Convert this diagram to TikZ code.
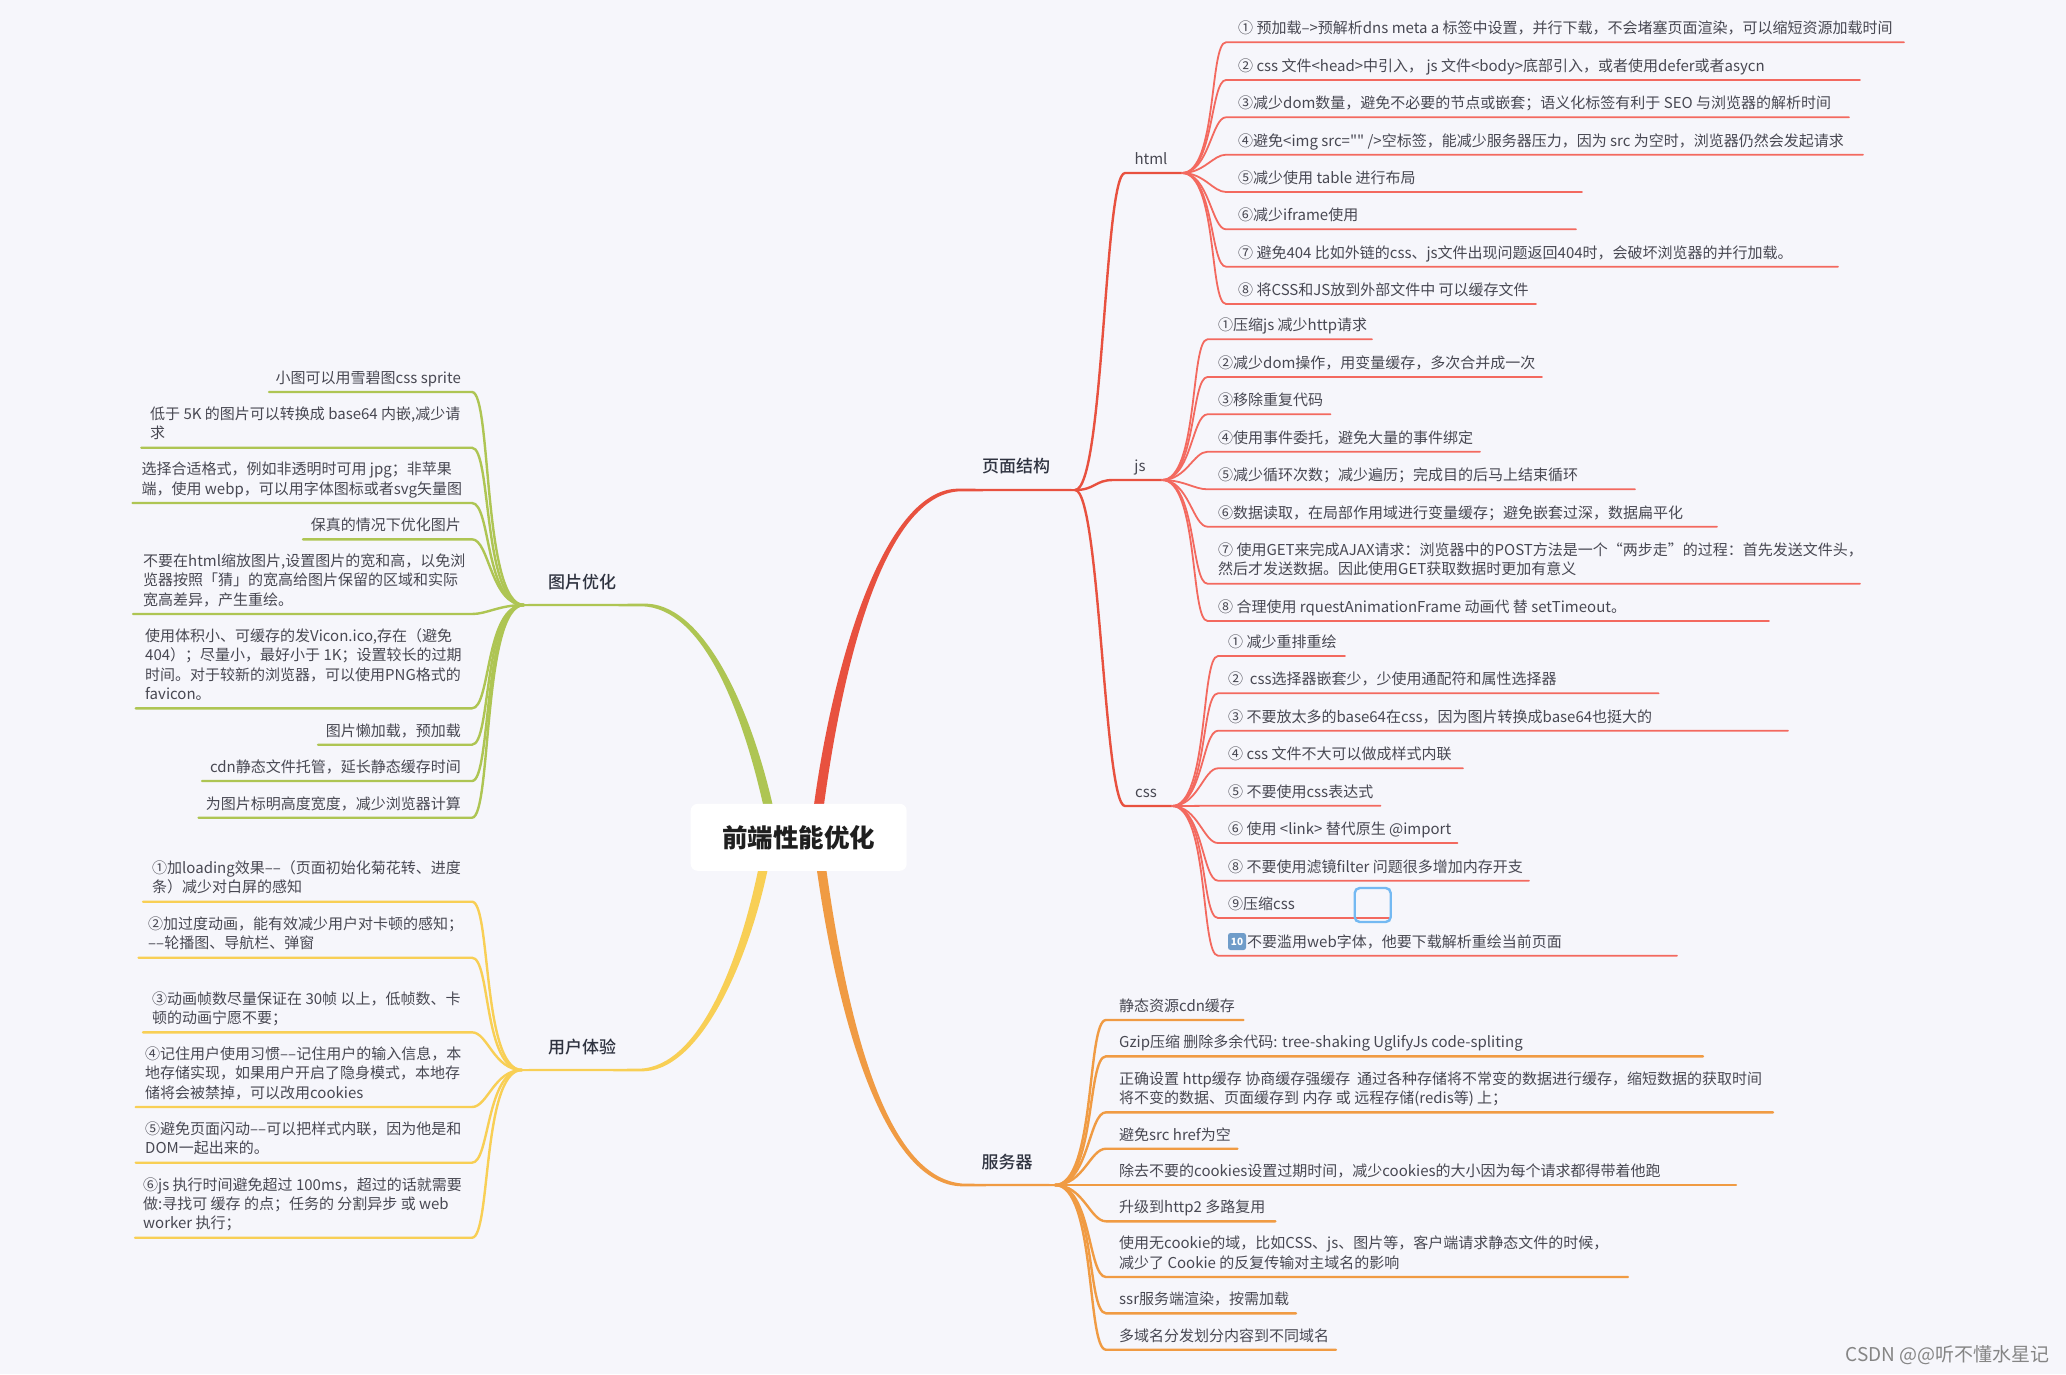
\documentclass[tikz,border=0pt]{standalone}
\usepackage{fontspec}
\setmainfont{Noto Sans CJK SC}
\newfontfamily\plainfont{Noto Sans CJK SC}
\newfontfamily\medfont{Noto Sans CJK SC Medium}
\usetikzlibrary{calc}
\definecolor{bgc}{HTML}{F6F6FB}
\definecolor{txt}{HTML}{484852}
\definecolor{head}{HTML}{2F3340}
\definecolor{redT}{HTML}{E8513F}
\definecolor{redS}{HTML}{F3695F}
\definecolor{orgT}{HTML}{F09B43}
\definecolor{grnT}{HTML}{AEC553}
\definecolor{ylwT}{HTML}{F8CF55}
\definecolor{selC}{HTML}{74B9F2}
\definecolor{keyC}{HTML}{6F9CC9}
\tikzset{
  itemtext/.style={font=\fontsize{15}{19.3}\selectfont,text=txt,inner sep=0pt,align=left,
    execute at begin node=\strut,execute at end node=\strut},
  headtext/.style={font=\fontsize{17}{20}\selectfont\medfont,text=head,inner sep=0pt},
  subhead/.style={font=\fontsize{15}{18}\selectfont,text=txt,inner sep=0pt},
  subline/.style={line cap=round},
  redsub/.style={line width=1.8pt,draw=redS},
  orgsub/.style={line width=2.4pt,draw=orgT},
  grnsub/.style={line width=2.4pt,draw=grnT},
  ylwsub/.style={line width=2.4pt,draw=ylwT},
  midline/.style={line width=2.4pt,line cap=round},
  rootbox/.style={fill=white,rounded corners=7pt,inner sep=0pt,minimum width=216pt,minimum height=67pt,
    font=\fontsize{25.5}{30}\selectfont\bfseries,text=black!88},
  selbox/.style={draw=selC,line width=2.4pt,rounded corners=5pt,inner sep=0pt,minimum width=36pt,minimum height=34pt},
  keycap/.style={fill=keyC,rounded corners=2.5pt,inner sep=0pt,minimum width=18pt,minimum height=17pt,text=white,
    font=\fontsize{10}{12}\selectfont\bfseries},
  wmark/.style={font=\fontsize{19}{22}\selectfont,text=black!48,inner sep=0pt}
}
% state: hub name, hub x, hub y, corner x, text x, line style
\newcommand\sethub[6]{\def\hubname{#1}\def\hubx{#2}\def\huby{#3}\def\startx{#4}\def\textx{#5}\def\col{#6}\coordinate (#1) at (#2,#3);}
\newcommand\drawsub[3]{% name, y, xend
  \pgfmathsetmacro\tallness{min(1,abs(#2-\huby)/120)}
  \pgfmathsetmacro\ctla{\hubx+(.45+.35*\tallness)*(\startx-\hubx)}
  \pgfmathsetmacro\ctlb{\hubx+(.72-.1*\tallness)*(\startx-\hubx)}
  \coordinate (#1 s) at (\startx,#2);
  \coordinate (#1 e) at (#3,#2);
  \draw[subline,\col] (\hubname) .. controls (\ctla,\huby) and (\ctlb,#2) .. (#1 s) -- (#1 e);}
% [lines]{name}{underline y}{x end}{text}  text starts at \textx
\newcommand\Ritem[5][1]{%
  \pgfmathsetmacro\tcy{#3-12.4-(#1-1)*9.65}
  \drawsub{#2}{#3}{#4}
  \node[itemtext,anchor=west] (#2) at (\textx,\tcy) {#5};}
% right-aligned single line on the left side
\newcommand\Litem[4]{%
  \pgfmathsetmacro\tcy{#2-12.4}
  \drawsub{#1}{#2}{#3}
  \node[itemtext,anchor=east] (#1) at (\textx,\tcy) {#4};}
% [lines]{name}{underline y}{x end}{text left}{text}
\newcommand\Lblock[6][1]{%
  \pgfmathsetmacro\tcy{#3-12.4-(#1-1)*9.65}
  \drawsub{#2}{#3}{#4}
  \node[itemtext,anchor=west] (#2) at (#5,\tcy) {#6};}
% tapered trunk: colour, P0, c1, c2, bend, hub, width, sign
\newcommand\trunk[8]{%
  \fill[#1] ($(#2)+(-#7/2,0)$) .. controls ($(#3)+(-#7*.5,0)$) and ($(#4)+(0,#8*4)$) .. ($(#5)+(0,#8*1.3)$)
    -- ($(#6)+(0,#8*1)$) -- ($(#6)+(0,-#8*1)$) -- ($(#5)+(0,-#8*1.3)$)
    .. controls ($(#4)+(0,-#8*4)$) and ($(#3)+(#7*.5,0)$) .. ($(#2)+(#7/2,0)$) -- cycle;}

\begin{document}
\begin{tikzpicture}[x=1pt,y=-1pt]
\useasboundingbox (0,0) rectangle (2066,1374);
\fill[bgc] (0,0) rectangle (2066,1374);

% anchors on the root
\coordinate (rA) at (818,812);
\coordinate (gA) at (769.5,812);
\coordinate (oA) at (820.5,862);
\coordinate (yA) at (764.5,862);
% main hubs
\coordinate (pageHub) at (1075,490);
\coordinate (serverHub) at (1055,1185);
\coordinate (imgHub) at (524,605);
\coordinate (uxHub) at (522,1070);
\coordinate (rC1) at (838,660); \coordinate (rC2) at (885,490); \coordinate (rB) at (960,490);
\coordinate (oC1) at (845,1040); \coordinate (oC2) at (890,1185); \coordinate (oB) at (965,1185);
\coordinate (gC1) at (745,700); \coordinate (gC2) at (700,605); \coordinate (gB) at (643,605);
\coordinate (yC1) at (745,960); \coordinate (yC2) at (700,1070); \coordinate (yB) at (640,1070);
\trunk{redT}{rA}{rC1}{rC2}{rB}{pageHub}{10}{-1}
\trunk{orgT}{oA}{oC1}{oC2}{oB}{serverHub}{9.5}{1}
\trunk{grnT}{gA}{gC1}{gC2}{gB}{imgHub}{9.5}{1}
\trunk{ylwT}{yA}{yC1}{yC2}{yB}{uxHub}{9.5}{-1}

% second-level red branches
\coordinate (htmlHub) at (1182,173);
\coordinate (htmlBend) at (1125,173);
\coordinate (jsHub) at (1162,480);
\coordinate (jsBend) at (1113,480);
\coordinate (cssHub) at (1172,806);
\coordinate (cssBend) at (1125,806);
\draw[midline,redT] (pageHub) .. controls (1104,490) and (1104,173) .. (htmlBend) -- (htmlHub);
\draw[midline,redT] (pageHub) .. controls (1095,490) and (1095,480) .. (jsBend) -- (jsHub);
\draw[midline,redT] (pageHub) .. controls (1100,490) and (1104,806) .. (cssBend) -- (cssHub);

% html
\sethub{htmlHub}{1182}{173}{1226}{1238}{redsub}
\Ritem{h1}{42.3}{1904}{① 预加载–>预解析dns meta a 标签中设置，并行下载，不会堵塞页面渲染，可以缩短资源加载时间}
\Ritem{h2}{80}{1860}{② css 文件<head>中引入， js 文件<body>底部引入，或者使用defer或者asycn}
\Ritem{h3}{117.3}{1849}{③减少dom数量，避免不必要的节点或嵌套；语义化标签有利于 SEO 与浏览器的解析时间}
\Ritem{h4}{154.7}{1863}{④避免<img src={\plainfont ""} />空标签，能减少服务器压力，因为 src 为空时，浏览器仍然会发起请求}
\Ritem{h5}{192}{1582}{⑤减少使用 table 进行布局}
\Ritem{h6}{229.3}{1576}{⑥减少iframe使用}
\Ritem{h7}{266.7}{1838}{⑦ 避免404 比如外链的css、js文件出现问题返回404时，会破坏浏览器的并行加载。}
\Ritem{h8}{304}{1536}{⑧ 将CSS和JS放到外部文件中 可以缓存文件}

% js
\sethub{jsHub}{1162}{480}{1207.5}{1218}{redsub}
\Ritem{j1}{339.3}{1372}{①压缩js 减少http请求}
\Ritem{j2}{377}{1542}{②减少dom操作，用变量缓存，多次合并成一次}
\Ritem{j3}{414.3}{1330.5}{③移除重复代码}
\Ritem{j4}{451.7}{1480}{④使用事件委托，避免大量的事件绑定}
\Ritem{j5}{489.3}{1635}{⑤减少循环次数；减少遍历；完成目的后马上结束循环}
\Ritem{j6}{526.7}{1717}{⑥数据读取，在局部作用域进行变量缓存；避免嵌套过深，数据扁平化}
\Ritem[2]{j7}{583.7}{1860}{⑦ 使用GET来完成AJAX请求：浏览器中的POST方法是一个“两步走”的过程：首先发送文件头，\\然后才发送数据。因此使用GET获取数据时更加有意义}
\Ritem{j8}{621}{1769}{⑧ 合理使用 rquestAnimationFrame 动画代 替 setTimeout。}

% css
\sethub{cssHub}{1172}{806}{1218}{1228}{redsub}
\Ritem{c1}{656}{1345}{① 减少重排重绘}
\Ritem{c2}{693.3}{1658.6}{②\ \ css选择器嵌套少，少使用通配符和属性选择器}
\Ritem{c3}{730.7}{1788}{③ 不要放太多的base64在css，因为图片转换成base64也挺大的}
\Ritem{c4}{768.3}{1463}{④ css 文件不大可以做成样式内联}
\Ritem{c5}{805.7}{1380.5}{⑤ 不要使用css表达式}
\Ritem{c6}{843}{1457.5}{⑥ 使用 <link> 替代原生 @import}
\Ritem{c7}{880.7}{1529}{⑧ 不要使用滤镜filter 问题很多增加内存开支}
\Ritem{c8}{918}{1388.7}{⑨压缩css}
\Lblock{c9}{955.7}{1677}{1247}{不要滥用web字体，他要下载解析重绘当前页面}
\node[keycap] (key) at (1237,941.5) {10};
\node[selbox] (sel) at (1372.7,905) {};

% server
\sethub{serverHub}{1055}{1185}{1106}{1119}{orgsub}
\Ritem{s1}{1020}{1243.5}{静态资源cdn缓存}
\Ritem{s2}{1056.3}{1703}{Gzip压缩 删除多余代码: tree-shaking UglifyJs code-spliting}
\Ritem[2]{s3}{1112.3}{1773}{正确设置 http缓存 协商缓存强缓存\ \ 通过各种存储将不常变的数据进行缓存，缩短数据的获取时间\\将不变的数据、页面缓存到 内存 或 远程存储(redis等) 上；}
\Ritem{s4}{1148.7}{1237.5}{避免src href为空}
\Ritem{s5}{1185}{1736}{除去不要的cookies设置过期时间，减少cookies的大小因为每个请求都得带着他跑}
\Ritem{s6}{1221.3}{1275.4}{升级到http2 多路复用}
\Ritem[2]{s7}{1277}{1628}{使用无cookie的域，比如CSS、js、图片等，客户端请求静态文件的时候，\\减少了 Cookie 的反复传输对主域名的影响}
\Ritem{s8}{1313.3}{1296}{ssr服务端渲染，按需加载}
\Ritem{s9}{1349.7}{1336}{多域名分发划分内容到不同域名}

% images
\sethub{imgHub}{524}{605}{472}{461}{grnsub}
\Litem{g1}{392}{269}{小图可以用雪碧图css sprite}
\Lblock[2]{g2}{447.7}{141.4}{150}{低于 5K 的图片可以转换成 base64 内嵌,减少请\\求}
\Lblock[2]{g3}{503}{132.5}{141.4}{选择合适格式，例如非透明时可用 jpg；非苹果\\端，使用 webp，可以用字体图标或者svg矢量图}
\Litem{g4}{539.3}{303}{保真的情况下优化图片}
\Lblock[3]{g5}{614}{133}{143}{不要在html缩放图片,设置图片的宽和高，以免浏\\览器按照「猜」的宽高给图片保留的区域和实际\\宽高差异，产生重绘。}
\Lblock[4]{g6}{708.3}{135.7}{145}{使用体积小、可缓存的发Vicon.ico,存在（避免\\404）；尽量小，最好小于 1K；设置较长的过期\\时间。对于较新的浏览器，可以使用PNG格式的\\favicon。}
\Litem{g7}{744.7}{318}{图片懒加载，预加载}
\Litem{g8}{781}{202}{cdn静态文件托管，延长静态缓存时间}
\Litem{g9}{817.7}{198.6}{为图片标明高度宽度，减少浏览器计算}

% user experience
\sethub{uxHub}{522}{1070}{472}{461}{ylwsub}
\Lblock[2]{y1}{901.7}{143}{152}{①加loading效果––（页面初始化菊花转、进度\\条）减少对白屏的感知}
\Lblock[2]{y2}{957.7}{138.6}{148}{②加过度动画，能有效减少用户对卡顿的感知；\\––轮播图、导航栏、弹窗}
\Lblock[2]{y3}{1032.3}{143}{152}{③动画帧数尽量保证在 30帧 以上，低帧数、卡\\顿的动画宁愿不要；}
\Lblock[3]{y4}{1107}{135.7}{145}{④记住用户使用习惯––记住用户的输入信息，本\\地存储实现，如果用户开启了隐身模式，本地存\\储将会被禁掉，可以改用cookies}
\Lblock[2]{y5}{1162.7}{135.7}{145}{⑤避免页面闪动––可以把样式内联，因为他是和\\DOM一起出来的。}
\Lblock[3]{y6}{1237.7}{135}{143}{⑥js 执行时间避免超过 100ms，超过的话就需要\\做:寻找可 缓存 的点；任务的 分割异步 或 web\\worker 执行；}

% labels
\node[headtext] (pageLabel) at (1016,466.5) {页面结构};
\node[headtext] (serverLabel) at (1007,1162) {服务器};
\node[headtext] (imgLabel) at (582,582) {图片优化};
\node[headtext] (uxLabel) at (582,1046.7) {用户体验};
\node[subhead] (htmlLabel) at (1151,159) {html};
\node[subhead] (jsLabel) at (1140,467) {js};
\node[subhead] (cssLabel) at (1146,793) {css};

\node[rootbox] (root) at (798.7,837.3) {前端性能优化};
\node[wmark,anchor=east] (wm) at (2050,1355) {CSDN @@听不懂水星记};
\end{tikzpicture}
\end{document}
